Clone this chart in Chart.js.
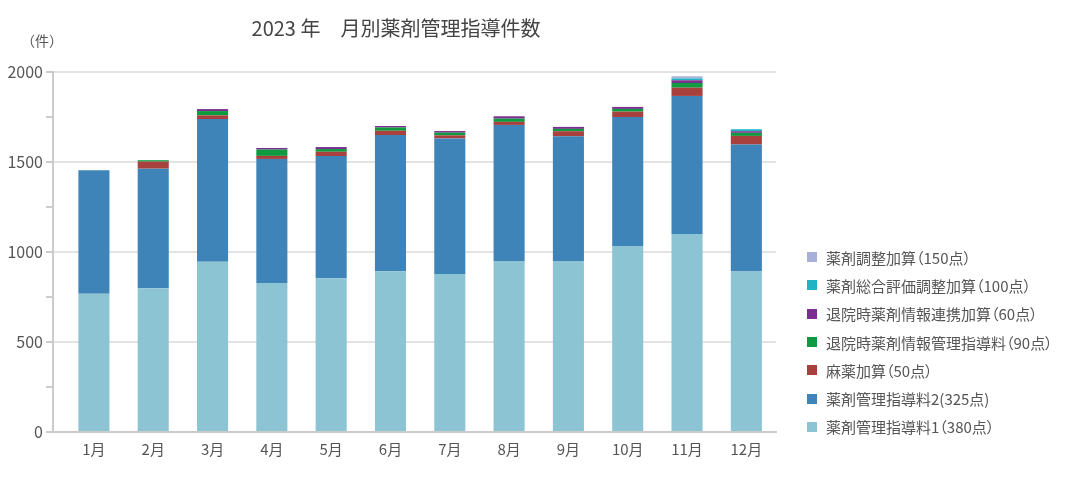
<!DOCTYPE html>
<html>
<head>
<meta charset="utf-8">
<script src="https://cdn.jsdelivr.net/npm/chart.js@4/dist/chart.umd.min.js"></script>
<style>
  body { margin: 0; background: #fff; font-family: "Noto Sans CJK JP", sans-serif; }
  #wrap { position: relative; width: 1065px; height: 486px; }
  #chart { position: absolute; left: 0; top: 0; }
  #title { position: absolute; left: 0; top: 14px; width: 792px; text-align: center;
           font-size: 20px; line-height: 28px; color: #444; white-space: pre; }
  #unit { position: absolute; left: 21px; top: 30px; font-size: 14px; line-height: 20px; color: #555; }
  #legend { position: absolute; left: 807px; top: 243px; font-size: 15px; color: #555;
            font-feature-settings: "palt"; }
  #legend div { height: 28.3px; display: flex; align-items: center; white-space: nowrap; }
  #legend span.box { display: inline-block; width: 10px; height: 10px; margin-right: 9px; }
</style>
</head>
<body>
<div id="wrap">
  <canvas id="chart" width="1065" height="486"></canvas>
  <div id="title">2023 年　月別薬剤管理指導件数</div>
  <div id="unit">（件）</div>
  <div id="legend"></div>
</div>
<script>
// 月別の件数
const months = ['1月', '2月', '3月', '4月', '5月', '6月', '7月', '8月', '9月', '10月', '11月', '12月'];
const yTicks = [0, 500, 1000, 1500, 2000];

const guidance1 = [768, 798, 946, 828, 854, 893, 878, 950, 950, 1033, 1100, 891];
const guidance2 = [686, 665, 793, 689, 679, 757, 753, 756, 693, 717, 767, 706];
const narcotic = [0, 39, 20, 17, 24, 24, 17, 17, 28, 30, 46, 48];
const dischargeGuidance = [0, 8, 24, 35, 15, 17, 15, 18, 13, 15, 26, 17];
const dischargeLink = [0, 0, 11, 9, 11, 9, 9, 13, 11, 11, 15, 9];
const totalEval = [0, 0, 0, 0, 0, 0, 0, 0, 0, 0, 10, 11];
const adjust = [0, 0, 0, 0, 0, 0, 0, 0, 0, 0, 12, 0];

const seriesNames = [
  '薬剤管理指導料1（380点）',
  '薬剤管理指導料2(325点)',
  '麻薬加算（50点）',
  '退院時薬剤情報管理指導料（90点）',
  '退院時薬剤情報連携加算（60点）',
  '薬剤総合評価調整加算（100点）',
  '薬剤調整加算（150点）'
];
const seriesData = [guidance1, guidance2, narcotic, dischargeGuidance, dischargeLink, totalEval, adjust];
const colors = ['#8DC4D3', '#3E84B9', '#A8413E', '#0E9A3E', '#7A2E90', '#1FB3C4', '#A8B0DA'];

Chart.defaults.font.family = '"Noto Sans CJK JP", sans-serif';

const datasets = seriesNames.map((name, i) => ({
  label: name,
  data: seriesData[i].map((v, j) => ({ x: j + 1, y: v })),
  backgroundColor: colors[i],
  borderWidth: 0,
  categoryPercentage: 0.8,
  barPercentage: 0.655
}));

const ctx = document.getElementById('chart').getContext('2d');

const chart = new Chart(ctx, {
  type: 'bar',
  data: { datasets: datasets },
  options: {
    responsive: false,
    animation: false,
    layout: { padding: { left: 8, right: 289, top: 72, bottom: 24 } },
    plugins: {
      legend: { display: false },
      tooltip: { enabled: false }
    },
    scales: {
      x: {
        type: 'linear',
        stacked: true,
        offset: false,
        min: 0.31,
        max: 12.5,
        afterBuildTicks: s => { s.ticks = months.map((m, i) => ({ value: i + 1 })); },
        afterFit: s => { s.height = 30; },
        ticks: {
          callback: v => months[v - 1],
          color: '#555',
          font: { size: 15 },
          padding: 8,
          autoSkip: false,
          maxRotation: 0
        },
        grid: { display: false, drawTicks: false, offset: false },
        border: { color: '#cbcbcb', width: 2 }
      },
      y: {
        stacked: true,
        min: 0,
        max: 2000,
        afterFit: s => { s.width = 45; },
        ticks: {
          stepSize: 250,
          callback: v => yTicks.includes(v) ? v : '',
          color: '#555',
          font: { size: 16 },
          padding: 3
        },
        grid: {
          color: c => c.tick.value === 0 ? '#cbcbcb' : (yTicks.includes(c.tick.value) ? '#e3e3e3' : 'rgba(0,0,0,0)'),
          lineWidth: 2,
          tickColor: '#cbcbcb',
          tickLength: 7
        },
        border: { color: '#cbcbcb', width: 2 }
      }
    }
  }
});

// 凡例（上から逆順）
const legend = document.getElementById('legend');
datasets.slice().reverse().forEach(ds => {
  const row = document.createElement('div');
  const box = document.createElement('span');
  box.className = 'box';
  box.style.background = ds.backgroundColor;
  row.appendChild(box);
  row.appendChild(document.createTextNode(ds.label));
  legend.appendChild(row);
});
</script>
</body>
</html>
